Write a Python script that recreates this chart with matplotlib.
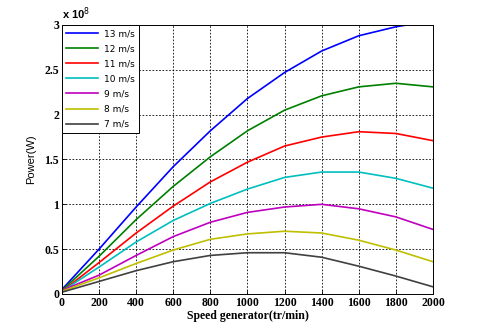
import matplotlib
matplotlib.use("Agg")
import matplotlib.pyplot as plt

# speed (tr/min) and power (x 1e8 W) for each wind speed
speed = [0, 200, 400, 600, 800, 1000, 1200, 1400, 1600, 1800, 2000]
p13 = [0.05, 0.50, 0.97, 1.42, 1.82, 2.18, 2.47, 2.71, 2.88, 2.98, 3.05]
p12 = [0.04, 0.42, 0.83, 1.20, 1.53, 1.82, 2.05, 2.21, 2.31, 2.35, 2.31]
p11 = [0.03, 0.35, 0.68, 0.98, 1.25, 1.47, 1.65, 1.75, 1.81, 1.79, 1.71]
p10 = [0.03, 0.30, 0.58, 0.82, 1.01, 1.17, 1.30, 1.36, 1.36, 1.29, 1.18]
p9 = [0.04, 0.21, 0.43, 0.64, 0.80, 0.91, 0.97, 1.00, 0.95, 0.86, 0.72]
p8 = [0.03, 0.18, 0.34, 0.49, 0.61, 0.67, 0.70, 0.68, 0.60, 0.49, 0.36]
p7 = [0.02, 0.14, 0.26, 0.36, 0.43, 0.46, 0.46, 0.41, 0.31, 0.20, 0.08]

series = [p13, p12, p11, p10, p9, p8, p7]
labels = ['13 m/s', '12 m/s', '11 m/s', '10 m/s', '9 m/s', '8 m/s', '7 m/s']
colors = ['#0000ff', '#008000', '#ff0000', '#00bfbf', '#bf00bf', '#bfbf00', '#404040']

fig = plt.figure(figsize=(4.8, 3.32), dpi=100)
ax = fig.add_axes([0.129, 0.1145, 0.773, 0.8102])

for y, lab, c in zip(series, labels, colors):
    ax.plot(speed, y, color=c, lw=1.2, label=lab)

ax.set_xlim(0, 2000)
ax.set_ylim(0, 3)
ax.set_xticks(range(0, 2001, 200))
ax.set_yticks([0, 0.5, 1, 1.5, 2, 2.5, 3])
ax.set_yticklabels(['0', '0.5', '1', '1.5', '2', '2.5', '3'])
ax.grid(True, color='black', linestyle=(0, (2, 2)), lw=0.6)
ax.tick_params(direction='in', length=3, width=0.6, labelsize=8.5, pad=2)
for lab in ax.get_xticklabels() + ax.get_yticklabels():
    lab.set_fontfamily('Liberation Serif')
    lab.set_fontweight('bold')
for s in ax.spines.values():
    s.set_linewidth(0.7)

ax.set_xlabel('Speed generator(tr/min)', fontfamily='Liberation Serif',
              fontweight='bold', fontsize=8.5, labelpad=1)
ax.set_ylabel('Power(W)', fontfamily='Liberation Sans', fontsize=8, labelpad=6)
ax.text(0.0, 1.01, r'x 10$^8$', transform=ax.transAxes, fontsize=8,
        fontweight='bold', fontfamily='Liberation Sans', va='bottom')

leg = ax.legend(loc='upper left', fontsize=6.5, frameon=True, fancybox=False,
                edgecolor='black', framealpha=1, handlelength=3.6,
                handletextpad=0.6, borderaxespad=0, labelspacing=0.68,
                borderpad=0.45)
leg.get_frame().set_linewidth(0.7)

fig.savefig('out.png', dpi=100)
